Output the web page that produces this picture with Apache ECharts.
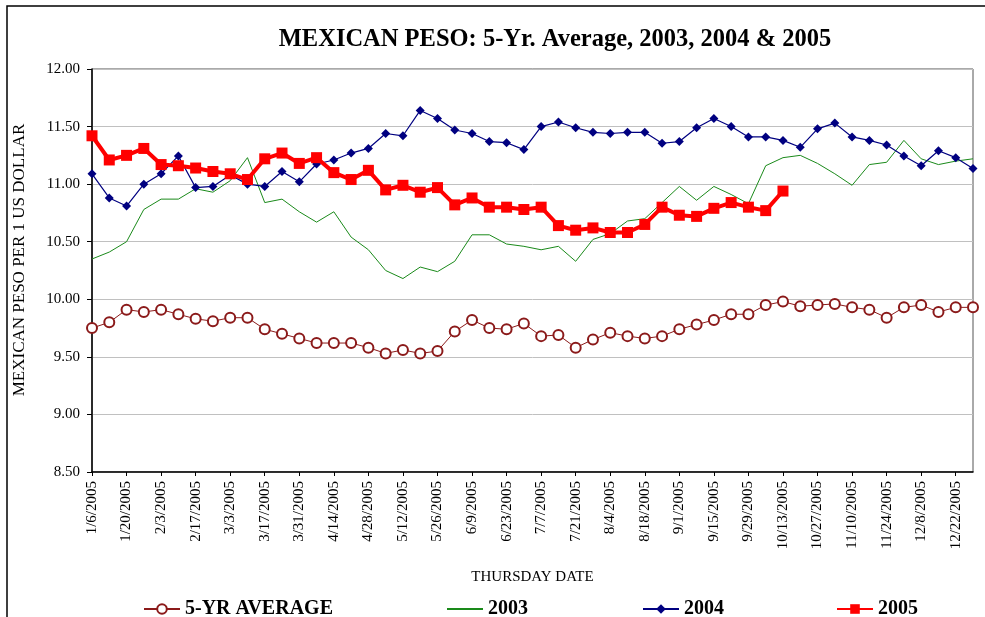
<!DOCTYPE html>
<html>
<head>
<meta charset="utf-8">
<script src="https://cdn.jsdelivr.net/npm/echarts@6/dist/echarts.min.js"></script>
<style>
  html, body { margin: 0; padding: 0; background: #fff; }
  #main { width: 985px; height: 617px; }
</style>
</head>
<body>
<div id="main"></div>
<script>
// weekly thursday dates
var dates = [
  "1/6/2005", "1/13/2005", "1/20/2005", "1/27/2005", "2/3/2005", "2/10/2005",
  "2/17/2005", "2/24/2005", "3/3/2005", "3/10/2005", "3/17/2005", "3/24/2005",
  "3/31/2005", "4/7/2005", "4/14/2005", "4/21/2005", "4/28/2005", "5/5/2005",
  "5/12/2005", "5/19/2005", "5/26/2005", "6/2/2005", "6/9/2005", "6/16/2005",
  "6/23/2005", "6/30/2005", "7/7/2005", "7/14/2005", "7/21/2005", "7/28/2005",
  "8/4/2005", "8/11/2005", "8/18/2005", "8/25/2005", "9/1/2005", "9/8/2005",
  "9/15/2005", "9/22/2005", "9/29/2005", "10/6/2005", "10/13/2005", "10/20/2005",
  "10/27/2005", "11/3/2005", "11/10/2005", "11/17/2005", "11/24/2005", "12/1/2005",
  "12/8/2005", "12/15/2005", "12/22/2005", "12/29/2005"
];

var avg5yr = [
  9.75, 9.80, 9.91, 9.89, 9.91, 9.87, 9.83, 9.81, 9.84, 9.84, 9.74, 9.70,
  9.66, 9.62, 9.62, 9.62, 9.58, 9.53, 9.56, 9.53, 9.55, 9.72, 9.82, 9.75,
  9.74, 9.79, 9.68, 9.69, 9.58, 9.65, 9.71, 9.68, 9.66, 9.68, 9.74, 9.78,
  9.82, 9.87, 9.87, 9.95, 9.98, 9.94, 9.95, 9.96, 9.93, 9.91, 9.84, 9.93,
  9.95, 9.89, 9.93, 9.93
];

var y2003 = [
  10.35, 10.41, 10.50, 10.78, 10.87, 10.87, 10.96, 10.93, 11.03, 11.23, 10.84, 10.87,
  10.76, 10.67, 10.76, 10.54, 10.43, 10.25, 10.18, 10.28, 10.24, 10.33, 10.56, 10.56,
  10.48, 10.46, 10.43, 10.46, 10.33, 10.52, 10.57, 10.68, 10.70, 10.84, 10.98, 10.86,
  10.98, 10.91, 10.83, 11.16, 11.23, 11.25, 11.18, 11.09, 10.99, 11.17, 11.19, 11.38,
  11.22, 11.17, 11.20, 11.22
];

var y2004 = [
  11.09, 10.88, 10.81, 11.00, 11.09, 11.245, 10.97, 10.98, 11.08, 11.00, 10.98, 11.11,
  11.02, 11.175, 11.21, 11.27, 11.31, 11.44, 11.42, 11.64, 11.57, 11.47, 11.44, 11.37,
  11.36, 11.30, 11.50, 11.54, 11.49, 11.45, 11.44, 11.45, 11.45, 11.355, 11.37, 11.49,
  11.57, 11.50, 11.41, 11.41, 11.38, 11.32, 11.48, 11.53, 11.41, 11.38, 11.34, 11.245,
  11.16, 11.29, 11.23, 11.135
];

var y2005 = [
  11.42, 11.21, 11.25, 11.31, 11.17, 11.16, 11.14, 11.11, 11.09, 11.04, 11.22, 11.27,
  11.18, 11.23, 11.10, 11.04, 11.12, 10.95, 10.99, 10.93, 10.97, 10.82, 10.88, 10.80,
  10.80, 10.78, 10.80, 10.64, 10.60, 10.62, 10.58, 10.58, 10.65, 10.80, 10.73, 10.72,
  10.79, 10.84, 10.80, 10.77, 10.94
];

var yTicks = { min: 8.5, max: 12, step: 0.5 };

var seriesNames = ["5-YR AVERAGE", "2003", "2004", "2005"];
var legendLeft = [143, 446, 642, 836];

var serif = "Liberation Serif";

var myChart = echarts.init(document.getElementById("main"));

var option = {
  backgroundColor: "#fff",
  animation: false,
  textStyle: { fontFamily: serif },
  title: {
    text: "MEXICAN PESO: 5-Yr. Average, 2003, 2004 & 2005",
    left: 550,
    top: 22,
    textAlign: "center",
    textStyle: {
      fontFamily: serif,
      fontSize: 24.5,
      fontWeight: "bold",
      color: "#000"
    }
  },
  legend: seriesNames.map(function (name, i) {
    var item = { name: name };
    if (name === "2003") {
      // plain line, no marker
      item.itemStyle = { color: "rgba(0,0,0,0)", borderWidth: 0 };
    }
    return {
      data: [item],
      left: legendLeft[i],
      top: 599,
      padding: 0,
      itemWidth: 36,
      itemHeight: 12,
      itemGap: 5,
      textStyle: {
        fontFamily: serif,
        fontSize: 20,
        fontWeight: "bold",
        color: "#000",
        padding: [0, 0, 0, 0]
      }
    };
  }),
  graphic: [
    {
      type: "rect",
      shape: { x: 7, y: 6, width: 990, height: 620 },
      style: { fill: "none", stroke: "#000", lineWidth: 1.5 },
      silent: true
    },
    {
      type: "rect",
      shape: { x: 92, y: 69, width: 881, height: 403 },
      style: { fill: "none", stroke: "#555", lineWidth: 1 },
      silent: true,
      z: -1
    },
    {
      type: "text",
      x: 20,
      y: 260,
      rotation: Math.PI / 2,
      style: {
        text: "MEXICAN PESO PER 1 US DOLLAR",
        fontFamily: serif,
        fontSize: 17,
        fill: "#000",
        align: "center",
        verticalAlign: "middle"
      },
      silent: true
    }
  ],
  grid: {
    left: 92,
    right: 12,
    top: 69,
    bottom: 145,
    containLabel: false
  },
  xAxis: {
    type: "category",
    data: dates,
    boundaryGap: false,
    name: "THURSDAY DATE",
    nameLocation: "middle",
    nameGap: 98,
    nameTextStyle: { fontFamily: serif, fontSize: 15, color: "#000" },
    axisLine: { lineStyle: { color: "#000", width: 1.5 } },
    axisTick: {
      interval: 1,
      length: 4,
      lineStyle: { color: "#000" }
    },
    axisLabel: {
      interval: 1,
      rotate: 90,
      fontFamily: serif,
      fontSize: 15,
      color: "#000",
      margin: 9
    },
    splitLine: { show: false }
  },
  yAxis: {
    type: "value",
    min: yTicks.min,
    max: yTicks.max,
    interval: yTicks.step,
    axisLine: { show: true, lineStyle: { color: "#000", width: 1.5 } },
    axisTick: { show: true, length: 5, lineStyle: { color: "#000" } },
    axisLabel: {
      fontFamily: serif,
      fontSize: 15,
      color: "#000",
      margin: 12,
      formatter: function (v) { return v.toFixed(2); }
    },
    splitLine: { lineStyle: { color: "#c0c0c0", width: 1 } }
  },
  series: [
    {
      name: "5-YR AVERAGE",
      type: "line",
      data: avg5yr,
      symbol: "emptyCircle",
      symbolSize: 10,
      showAllSymbol: true,
      color: "#8b1a1a",
      lineStyle: { color: "#8b1a1a", width: 1 },
      itemStyle: { color: "#8b1a1a", borderColor: "#8b1a1a", borderWidth: 1 },
      z: 2
    },
    {
      name: "2003",
      type: "line",
      data: y2003,
      symbol: "none",
      color: "#1a8a1a",
      lineStyle: { color: "#1a8a1a", width: 1 },
      z: 3
    },
    {
      name: "2004",
      type: "line",
      data: y2004,
      symbol: "diamond",
      symbolSize: 9,
      showAllSymbol: true,
      color: "#000080",
      lineStyle: { color: "#000080", width: 1.2 },
      itemStyle: { color: "#000080" },
      z: 4
    },
    {
      name: "2005",
      type: "line",
      data: y2005,
      symbol: "rect",
      symbolSize: 11,
      showAllSymbol: true,
      color: "#ff0000",
      lineStyle: { color: "#ff0000", width: 4 },
      itemStyle: { color: "#ff0000" },
      z: 5
    }
  ]
};

myChart.setOption(option);
</script>
</body>
</html>
